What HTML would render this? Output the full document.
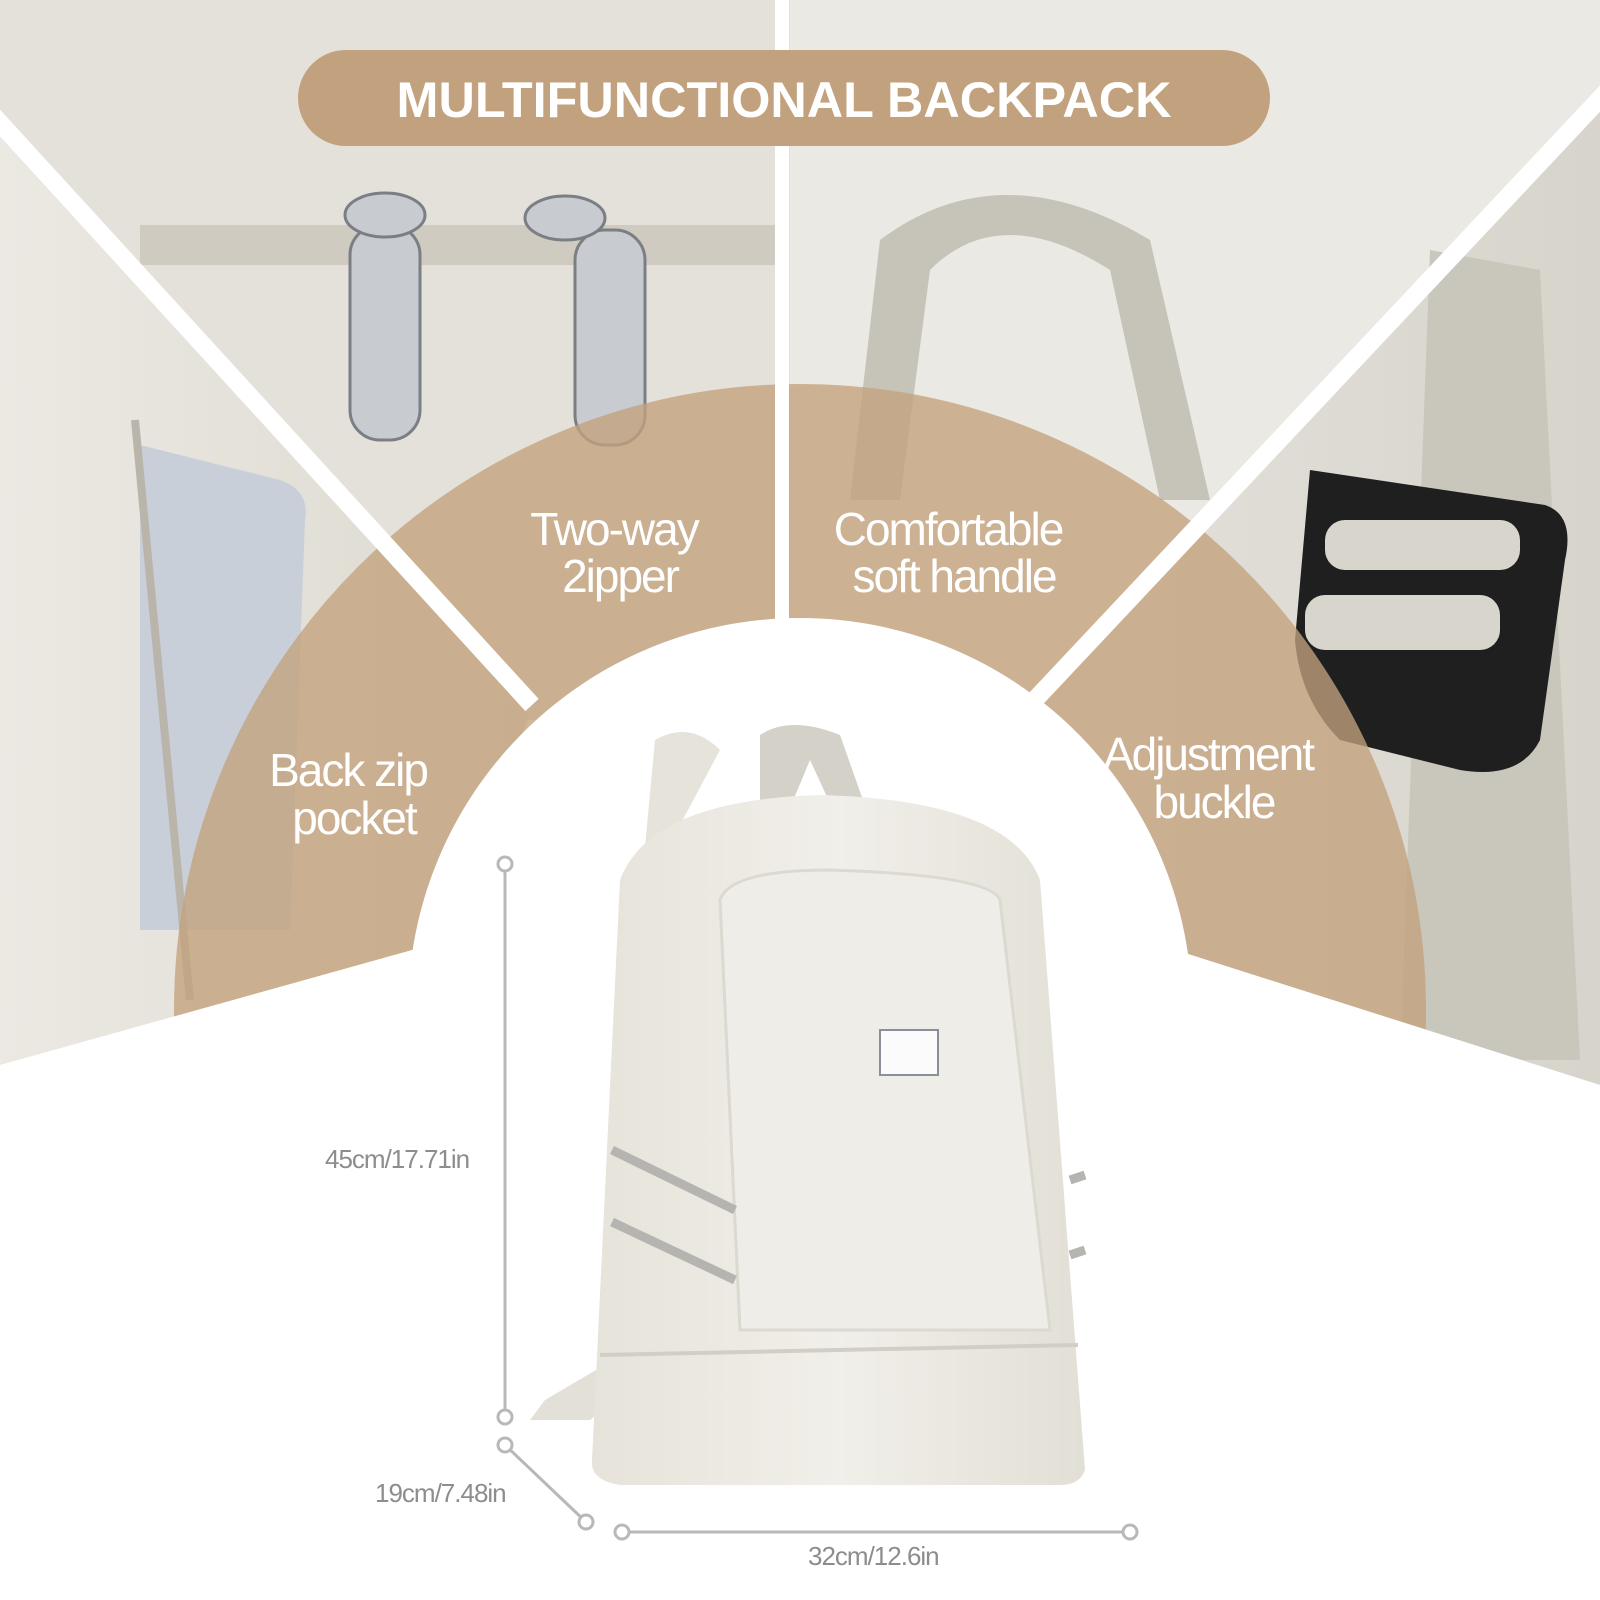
<!DOCTYPE html>
<html><head><meta charset="utf-8"><style>
html,body{margin:0;padding:0;background:#fff}
svg{display:block}
text{font-family:"Liberation Sans",sans-serif}
</style></head><body>
<svg width="1600" height="1600" viewBox="0 0 1600 1600" xmlns="http://www.w3.org/2000/svg">
<defs>
<linearGradient id="gL" x1="0" y1="0" x2="1" y2="0"><stop offset="0" stop-color="#ebe9e2"/><stop offset="1" stop-color="#dcd9d0"/></linearGradient>
<linearGradient id="gR" x1="0" y1="0" x2="1" y2="0"><stop offset="0" stop-color="#e4e2db"/><stop offset="1" stop-color="#d6d4cb"/></linearGradient>
<linearGradient id="bp" x1="0" y1="0" x2="1" y2="0"><stop offset="0" stop-color="#e6e3da"/><stop offset="0.5" stop-color="#f1efe9"/><stop offset="1" stop-color="#e2dfd6"/></linearGradient>
</defs>
<rect x="0" y="0" width="790" height="720" fill="#e4e1da"/>
<rect x="790" y="0" width="810" height="720" fill="#ebe9e4"/>
<polygon points="0,125 530,715 430,950 0,1065" fill="url(#gL)"/>
<polygon points="1600,95 1030,705 1160,950 1600,1085" fill="url(#gR)"/>
<rect x="140" y="225" width="640" height="40" fill="#cfcbc1"/>
<path d="M140,445 L280,480 Q310,490 305,520 L290,930 L140,930 Z" fill="#c9cfd9"/>
<line x1="135" y1="420" x2="190" y2="1000" stroke="#b9b5ab" stroke-width="8"/>
<g fill="#c8cbcf" stroke="#7b7f85" stroke-width="3">
<rect x="350" y="225" width="70" height="215" rx="30"/>
<rect x="575" y="230" width="70" height="215" rx="30"/>
<ellipse cx="385" cy="215" rx="40" ry="22"/>
<ellipse cx="565" cy="218" rx="40" ry="22"/>
</g>
<path d="M850,500 L880,240 Q1000,150 1150,240 L1210,500 L1160,500 L1110,270 Q1000,200 930,270 L900,500 Z" fill="#c6c3b9"/>
<polygon points="1430,250 1540,270 1580,1060 1400,1060" fill="#c9c6bc"/>
<path d="M1310,470 L1545,505 Q1575,515 1565,560 L1540,740 Q1520,780 1460,770 L1340,740 Q1300,700 1295,640 Z" fill="#1f1f20"/>
<rect x="1325" y="520" width="195" height="50" rx="20" fill="#d8d5cc"/>
<rect x="1305" y="595" width="195" height="55" rx="20" fill="#d8d5cc"/>
<circle cx="800" cy="1010" r="508" fill="none" stroke="#c3a27c" stroke-opacity="0.78" stroke-width="236"/>
<line x1="-10" y1="112" x2="532" y2="705" stroke="#fff" stroke-width="18"/>
<line x1="782" y1="0" x2="782" y2="640" stroke="#fff" stroke-width="14"/>
<line x1="1610" y1="88" x2="1030" y2="705" stroke="#fff" stroke-width="18"/>
<polygon points="0,1065 430,945 1160,945 1600,1085 1600,1600 0,1600" fill="#fff"/>
<circle cx="800" cy="1010" r="392" fill="#fff"/>
<rect x="298" y="50" width="972" height="96" rx="48" fill="#c2a27e"/>
<text x="784" y="117" font-size="50" font-weight="bold" fill="#fff" text-anchor="middle" textLength="775" lengthAdjust="spacingAndGlyphs">MULTIFUNCTIONAL BACKPACK</text>
<g fill="#fff" font-size="46" text-anchor="middle" letter-spacing="-2">
<text x="614" y="545">Two-way</text><text x="620" y="592">2ipper</text>
<text x="948" y="545">Comfortable</text><text x="954" y="592">soft handle</text>
<text x="348" y="786">Back zip</text><text x="354" y="834">pocket</text>
<text x="1208" y="770">Adjustment</text><text x="1214" y="818">buckle</text>
</g>
<path d="M655,740 Q690,720 720,750 L640,900 Z" fill="#e6e3db"/>
<path d="M760,735 Q790,715 840,735 L870,820 L840,825 L810,760 L785,820 L760,820 Z" fill="#d4d1c8"/>
<path d="M630,1350 L545,1400 L530,1420 L590,1420 L640,1380 Z" fill="#e3e0d8"/>
<path d="M620,880 Q650,800 820,795 Q1010,800 1040,880 L1085,1470 Q1080,1485 1060,1485 L620,1485 Q590,1480 592,1460 Z" fill="url(#bp)"/>
<path d="M720,900 Q730,870 830,870 Q990,875 1000,900 L1050,1330 L740,1330 Z" fill="#efede7" stroke="#dcd9d0" stroke-width="3"/>
<line x1="600" y1="1355" x2="1078" y2="1345" stroke="#d2cec5" stroke-width="4"/>
<rect x="880" y="1030" width="58" height="45" fill="#fbfbfb" stroke="#8a8f9a" stroke-width="2"/>
<line x1="612" y1="1150" x2="735" y2="1210" stroke="#b5b4b0" stroke-width="9"/>
<line x1="612" y1="1222" x2="735" y2="1280" stroke="#b5b4b0" stroke-width="9"/>
<line x1="1070" y1="1180" x2="1085" y2="1175" stroke="#b5b4b0" stroke-width="9"/>
<line x1="1070" y1="1255" x2="1085" y2="1250" stroke="#b5b4b0" stroke-width="9"/>
<g stroke="#b8b8b8" stroke-width="3" fill="#fff">
<line x1="505" y1="864" x2="505" y2="1417"/>
<line x1="505" y1="1445" x2="586" y2="1522"/>
<line x1="622" y1="1532" x2="1130" y2="1532"/>
<circle cx="505" cy="864" r="7"/><circle cx="505" cy="1417" r="7"/>
<circle cx="505" cy="1445" r="7"/><circle cx="586" cy="1522" r="7"/>
<circle cx="622" cy="1532" r="7"/><circle cx="1130" cy="1532" r="7"/>
</g>
<g fill="#8d8d8d" font-size="26" letter-spacing="-1">
<text x="325" y="1168">45cm/17.71in</text>
<text x="375" y="1502">19cm/7.48in</text>
<text x="808" y="1565">32cm/12.6in</text>
</g>
</svg>
</body></html>
